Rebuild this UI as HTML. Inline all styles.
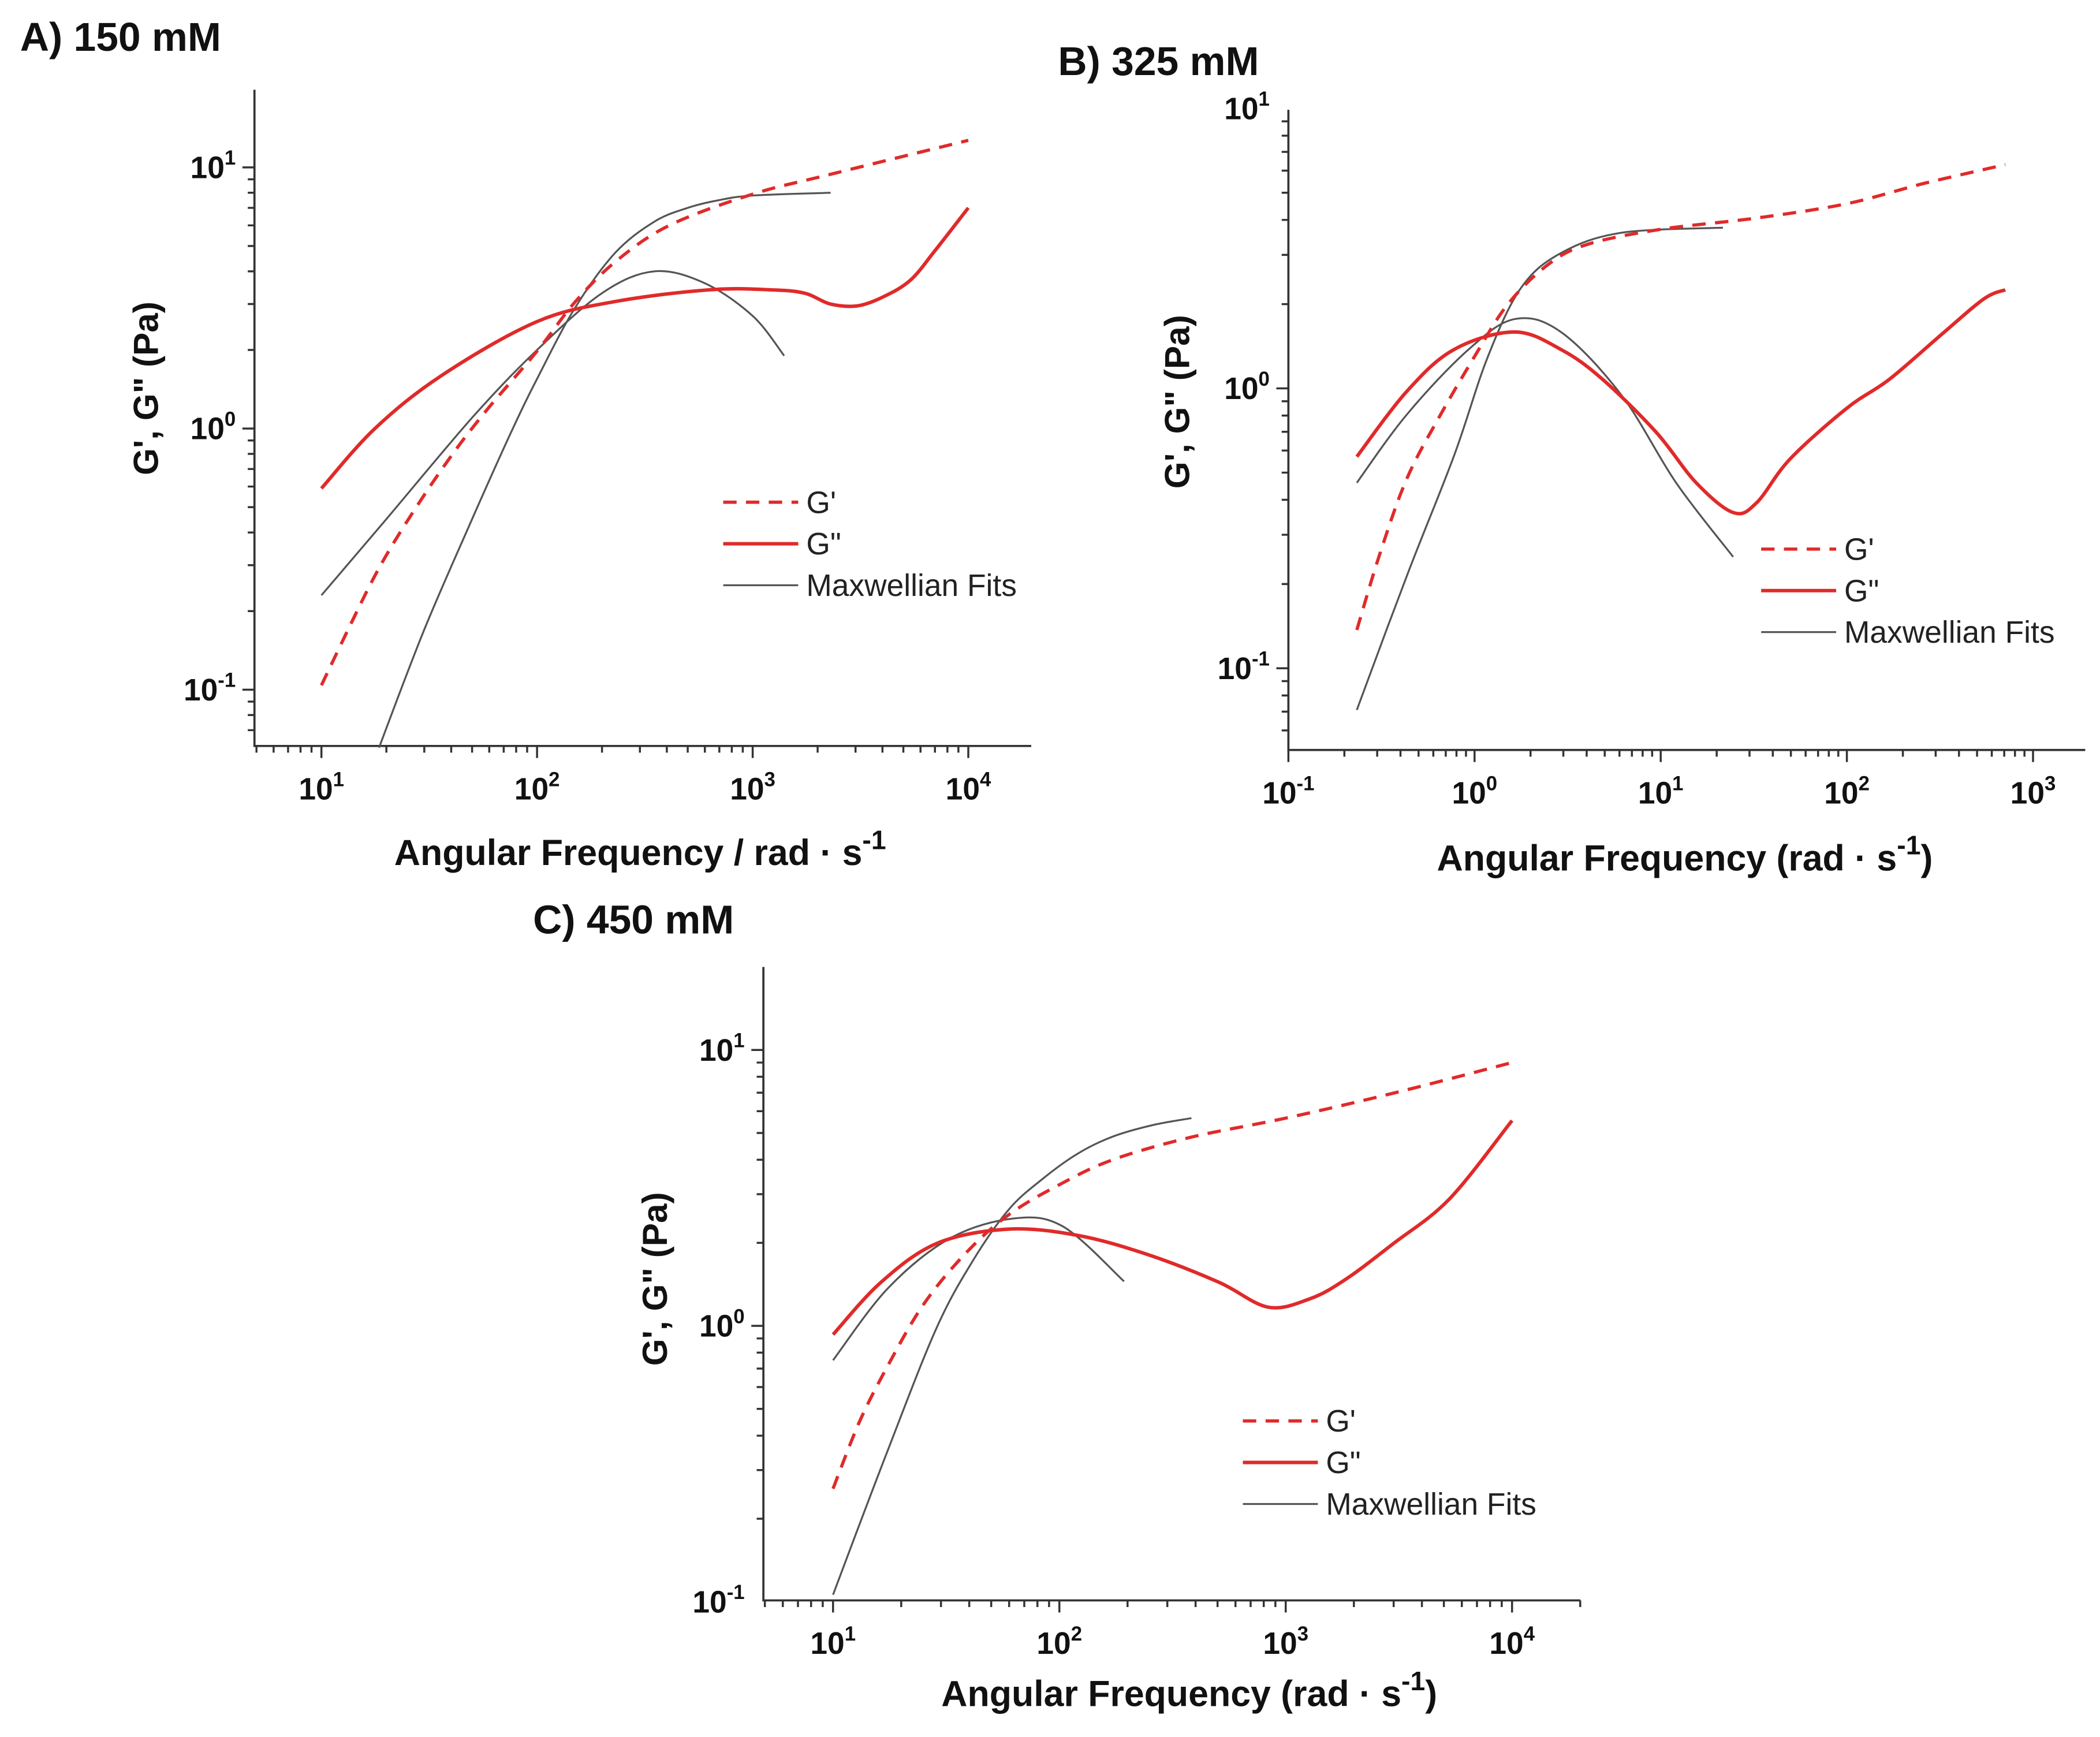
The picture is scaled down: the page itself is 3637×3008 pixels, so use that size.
<!DOCTYPE html>
<html><head><meta charset="utf-8"><style>
html,body{margin:0;padding:0;background:#fff}
svg{display:block}
text{font-family:"Liberation Sans",Arial,sans-serif}
</style></head><body>
<svg id="fig" width="3637" height="3008" viewBox="0 0 1568 1297" preserveAspectRatio="none" xmlns="http://www.w3.org/2000/svg"></svg>
<script>
// ---------- DATA (omega rad/s, modulus Pa) ----------
// Panel A: 150 mM
const aGpW  = [10,13.3,17.7,23.6,36.2,55.6,100,151,233,411,1000,2290,10000];
const aGpV  = [0.104,0.17,0.273,0.41,0.70,1.12,1.98,3.07,4.38,6.0,7.9,9.4,12.7];
const aGppW = [10,17.7,36.2,100,233,630,1200,1740,2290,3050,4050,5390,7000,10000];
const aGppV = [0.59,1.0,1.6,2.57,3.07,3.4,3.4,3.3,3.0,2.95,3.2,3.7,4.8,7.0];
const aFpW  = [18.5,30,50,75,100,150,230,350,500,700,1000,2300];
const aFpV  = [0.06,0.17,0.45,0.95,1.55,2.9,4.7,6.2,7.0,7.5,7.8,8.0];
const aFppW = [10,20,50,100,200,350,600,1000,1400];
const aFppV = [0.23,0.45,1.1,2.0,3.3,4.0,3.6,2.7,1.9];
// Panel B: 325 mM
const bGpW  = [0.233,0.312,0.435,0.66,1,1.51,2.5,4.1,10,32.7,100,260,710];
const bGpV  = [0.137,0.26,0.48,0.81,1.30,2.0,2.78,3.28,3.7,4.06,4.57,5.4,6.3];
const bGppW = [0.233,0.435,0.78,1.65,2.95,4.85,9.4,15.5,24.5,32.7,49.6,100,170,330,545,710];
const bGppV = [0.57,0.98,1.38,1.59,1.37,1.08,0.70,0.46,0.36,0.39,0.56,0.85,1.08,1.58,2.09,2.25];
const bFpW  = [0.233,0.435,0.78,1.18,1.79,2.95,6.2,21.6];
const bFpV  = [0.071,0.216,0.58,1.30,2.3,3.06,3.6,3.75];
const bFppW = [0.233,0.435,0.92,1.65,2.95,6.2,12.1,24.5];
const bFppV = [0.46,0.81,1.37,1.77,1.58,0.94,0.46,0.25];
// Panel C: 450 mM
const cGpW  = [10,13.1,17.5,25,38,59,100,172,378,1000,3000,10000];
const cGpV  = [0.257,0.45,0.72,1.19,1.81,2.51,3.25,4.0,4.82,5.66,6.98,9.0];
const cGppW = [10,16.3,28.8,59,120,247,506,833,1270,1830,3000,5300,10000];
const cGppV = [0.93,1.44,1.99,2.24,2.13,1.81,1.44,1.17,1.25,1.47,1.99,2.89,5.55];
const cFpW  = [10,17.5,28.8,42,60,84,120,172,260,383];
const cFpV  = [0.106,0.356,0.99,1.75,2.65,3.4,4.2,4.85,5.35,5.66];
const cFppW = [10,17.5,33,63,104,193];
const cFppV = [0.75,1.37,2.08,2.45,2.29,1.45];
// tick decades
const aXDec = [1,2,3,4], aYDec = [-1,0,1];
const bXDec = [-1,0,1,2,3], bYDec = [-1,0,1];
const cXDec = [1,2,3,4], cYDec = [-1,0,1];

const NS = "http://www.w3.org/2000/svg";
const svg = document.getElementById('fig');
function mk(tag, attrs, parent){ const e=document.createElementNS(NS,tag); for(const k in attrs) e.setAttribute(k,attrs[k]); (parent||svg).appendChild(e); return e; }

function smoothPath(pts){
  let d = `M${pts[0][0].toFixed(1)},${pts[0][1].toFixed(1)}`;
  for(let i=0;i<pts.length-1;i++){
    const p0=pts[i-1]||pts[i], p1=pts[i], p2=pts[i+1], p3=pts[i+2]||p2;
    const c1=[p1[0]+(p2[0]-p0[0])/6, p1[1]+(p2[1]-p0[1])/6];
    const c2=[p2[0]-(p3[0]-p1[0])/6, p2[1]-(p3[1]-p1[1])/6];
    d+=` C${c1[0].toFixed(1)},${c1[1].toFixed(1)} ${c2[0].toFixed(1)},${c2[1].toFixed(1)} ${p2[0].toFixed(1)},${p2[1].toFixed(1)}`;
  }
  return d;
}

function panel(cfg){
  const g = mk('g',{});
  
  
  const X = w => cfg.xRef + (Math.log10(w)-cfg.xRefLog)*cfg.xDec;
  const Y = v => cfg.yRef - (Math.log10(v)-cfg.yRefLog)*cfg.yDec;
  const lxMin = cfg.xRefLog + (cfg.x0-cfg.xRef)/cfg.xDec, lxMax = cfg.xRefLog + (cfg.x1-cfg.xRef)/cfg.xDec;
  const lyMin = cfg.yRefLog - (cfg.y1-cfg.yRef)/cfg.yDec, lyMax = cfg.yRefLog - (cfg.y0-cfg.yRef)/cfg.yDec;
  const t = mk('text',{x:cfg.titleX,y:cfg.titleY,'font-size':30,'font-weight':'bold',fill:'#111'},g); t.textContent=cfg.title;
  
  
  const ax = mk('path',{d:`M${cfg.x0},${cfg.y0} V${cfg.y1} H${cfg.x1}`,fill:'none',stroke:'#333','stroke-width':1.6},g);
  
  
  let td='';
  for(let d=Math.floor(lxMin)-1; d<=Math.ceil(lxMax); d++){
    for(let m=1;m<=9;m++){
      const l=d+Math.log10(m); if(l<lxMin-1e-6||l>lxMax+1e-6) continue;
      const px=cfg.xRef+(l-cfg.xRefLog)*cfg.xDec; td+=`M${px.toFixed(1)},${cfg.y1} v${m===1?9:5} `;
    }
  }
  for(let d=Math.floor(lyMin)-1; d<=Math.ceil(lyMax); d++){
    for(let m=1;m<=9;m++){
      const l=d+Math.log10(m); if(l<lyMin-1e-6||l>lyMax+1e-6) continue;
      const py=cfg.yRef-(l-cfg.yRefLog)*cfg.yDec; td+=`M${cfg.x0},${py.toFixed(1)} h${m===1?-9:-5} `;
    }
  }
  const tk = mk('path',{d:td,stroke:'#333','stroke-width':1.5,fill:'none'},g);
  
  
  cfg.xDecs.forEach(d=>{
    const tx = mk('text',{x:X(Math.pow(10,d)),y:cfg.y1+40,'font-size':23,'font-weight':'bold','text-anchor':'middle',fill:'#111'},g);
    
    
    tx.innerHTML = `10<tspan dy="-10" font-size="15">${d}</tspan>`;
  });
  cfg.yDecs.forEach(d=>{
    const ty = mk('text',{x:cfg.x0-14,y:Y(Math.pow(10,d))+8,'font-size':23,'font-weight':'bold','text-anchor':'end',fill:'#111'},g);
    
    
    ty.innerHTML = `10<tspan dy="-10" font-size="15">${d}</tspan>`;
  });
  const xt = mk('text',{x:cfg.xtX,y:cfg.xtY,'font-size':27,'font-weight':'bold','text-anchor':'middle',fill:'#111'},g);
  
  
  xt.innerHTML = cfg.xTitle + `<tspan dy="-12" font-size="20">-1</tspan>` + (cfg.xTitleEnd?`<tspan dy="12">${cfg.xTitleEnd}</tspan>`:'');
  const yt = mk('text',{x:0,y:0,'font-size':26,'font-weight':'bold','text-anchor':'middle',fill:'#111',transform:`translate(${cfg.ytX},${cfg.ytY}) rotate(-90)`},g);
  
  
  yt.textContent = 'G\', G" (Pa)';
  const series = [
    [cfg.fpW,cfg.fpV,'#555',1.4,null,'maxwell-fit-storage'],
    [cfg.fppW,cfg.fppV,'#555',1.4,null,'maxwell-fit-loss'],
    [cfg.gppW,cfg.gppV,'#e02a2a',2.6,null,'loss-modulus-line'],
    [cfg.gpW,cfg.gpV,'#e02a2a',2.4,'10,7','storage-modulus-line']
  ];
  series.forEach(s=>{
    const pts = s[0].map((w,i)=>[X(w),Y(s[1][i])]);
    const p = mk('path',{d:smoothPath(pts),fill:'none',stroke:s[2],'stroke-width':s[3],'stroke-linejoin':'round'},g);
    if(s[4]) p.setAttribute('stroke-dasharray',s[4]);
    
    
  });
  const lg = mk('g',{},g);
  
  
  const items=[["G'",'#e02a2a',2.4,'10,7'],['G"','#e02a2a',2.6,null],['Maxwellian Fits','#555',1.4,null]];
  items.forEach((it,i)=>{
    const y=cfg.legY+i*cfg.legGap;
    const l=mk('line',{x1:cfg.legX,x2:cfg.legX+56,y1:y,y2:y,stroke:it[1],'stroke-width':it[2]},lg);
    if(it[3]) l.setAttribute('stroke-dasharray',it[3]);
    
    
    const tt=mk('text',{x:cfg.legX+62,y:y+8,'font-size':23,fill:'#222'},lg); tt.textContent=it[0];
    
    
  });
}

panel({name:'panel-a-150mM',title:'A) 150 mM',titleX:15,titleY:38,
  x0:190,x1:770,y0:67,y1:557,xRef:240,xRefLog:1,xDec:161,yRef:125,yRefLog:1,yDec:195,
  xDecs:aXDec,yDecs:aYDec,xTitle:'Angular Frequency / rad · s',xTitleEnd:'',xtX:478,xtY:646,ytX:118,ytY:290,
  gpW:aGpW,gpV:aGpV,gppW:aGppW,gppV:aGppV,fpW:aFpW,fpV:aFpV,fppW:aFppW,fppV:aFppV,
  legX:540,legY:375,legGap:31});
panel({name:'panel-b-325mM',title:'B) 325 mM',titleX:790,titleY:56,
  x0:962,x1:1557,y0:82,y1:560,xRef:1101,xRefLog:0,xDec:139,yRef:290,yRefLog:0,yDec:209,
  xDecs:bXDec,yDecs:bYDec,xTitle:'Angular Frequency (rad · s',xTitleEnd:')',xtX:1258,xtY:650,ytX:888,ytY:300,
  gpW:bGpW,gpV:bGpV,gppW:bGppW,gppV:bGppV,fpW:bFpW,fpV:bFpV,fppW:bFppW,fppV:bFppV,
  legX:1315,legY:410,legGap:31});
panel({name:'panel-c-450mM',title:'C) 450 mM',titleX:398,titleY:697,
  x0:570,x1:1180,y0:722,y1:1195,xRef:622,xRefLog:1,xDec:169,yRef:990,yRefLog:0,yDec:206,
  xDecs:cXDec,yDecs:cYDec,xTitle:'Angular Frequency (rad · s',xTitleEnd:')',xtX:888,xtY:1274,ytX:498,ytY:955,
  gpW:cGpW,gpV:cGpV,gppW:cGppW,gppV:cGppV,fpW:cFpW,fpV:cFpV,fppW:cFppW,fppV:cFppV,
  legX:928,legY:1061,legGap:31});
</script>
</body></html>
